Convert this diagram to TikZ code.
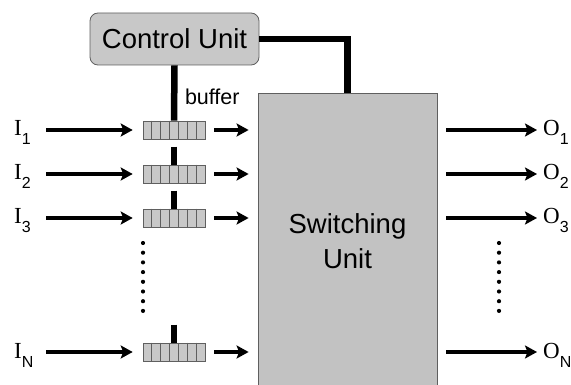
\documentclass[tikz,border=0pt]{standalone}
\usepackage{fontspec}
\setmainfont{Liberation Serif}
\setsansfont{Liberation Sans}
\usetikzlibrary{arrows.meta}
\usetikzlibrary{positioning}
\usetikzlibrary{calc}

\definecolor{unitgray}{RGB}{194,194,194}
\definecolor{cellgray}{RGB}{200,200,200}
\definecolor{edgegray}{RGB}{95,95,95}

\newcommand{\portname}[2]{#1\kern0.3pt\raisebox{-9pt}{\sffamily\fontsize{16}{16}\selectfont #2}}

\begin{document}
\begin{tikzpicture}[x=1pt,y=-1pt,>={Stealth[length=12pt,width=13pt,inset=2.5pt]},
			line width=4pt]
			\tikzstyle{unit}=[draw=edgegray,line width=0.8pt,fill=unitgray,font=\sffamily\fontsize{27.5}{35}\selectfont]
			\tikzstyle{buffer}=[draw=edgegray,line width=0.6pt,fill=cellgray,minimum width=62pt,minimum height=18pt,inner sep=0pt]
			\tikzstyle{cell}=[draw=edgegray,line width=0.6pt]
			\tikzstyle{ctrl}=[line width=6.5pt]
			\tikzstyle{port}=[inner sep=0pt,anchor=base west,font=\fontsize{23}{23}\selectfont]
			
			\useasboundingbox (0,0) rectangle (571,385);
			
			\node[unit,rounded corners=8pt,minimum width=169pt,minimum height=52pt,fill=cellgray] (ctrl) at (174.5,39) {Control Unit};
			\node[unit,minimum width=179pt,minimum height=296pt,align=center] (switch) at (347.5,241) {Switching\\Unit};
			
			\foreach \n/\y in {1/130,2/174,3/218,N/352} {
				\node[buffer] (buf\n) at (174,\y) {};
				\foreach \k in {1,...,6}
				\draw[cell] ($(buf\n.north west)!\k/7!(buf\n.north east)$) -- ($(buf\n.south west)!\k/7!(buf\n.south east)$);
				\node[port] (in\n) at (12,\y+6) {\portname{I}{\n}};
				\node[port] (out\n) at (541,\y+6) {\portname{O}{\n}};
				\draw[->,shorten <=34pt,shorten >=10pt] (in\n.west |- buf\n) -- (buf\n.west);
				\draw[->,shorten <=9pt,shorten >=9pt] (buf\n.east) -- (buf\n.east -| switch.west);
				\draw[->,shorten <=9pt,shorten >=4pt] (switch.east |- buf\n) -- (out\n.west |- buf\n);
			}
			\node[anchor=base west,inner sep=0pt,font=\sffamily\fontsize{21.5}{21.5}\selectfont] (buflabel) at (183,105) {buffer};
			
			% control lines
			\draw[ctrl] (ctrl.south) -- (buf1.north);
			\foreach \n in {2,3,N}
			\draw[ctrl] ([yshift=18pt]buf\n.north) -- (buf\n.north);
			\draw[ctrl] (ctrl.east) -| (switch.north);
			
			% dots
			\foreach \k in {0,...,7} {
				\fill (143,243+\k*9.7) circle (2.1pt);
				\fill (499,243+\k*9.7) circle (2.1pt);
			}
			
		\end{tikzpicture}
\end{document}
